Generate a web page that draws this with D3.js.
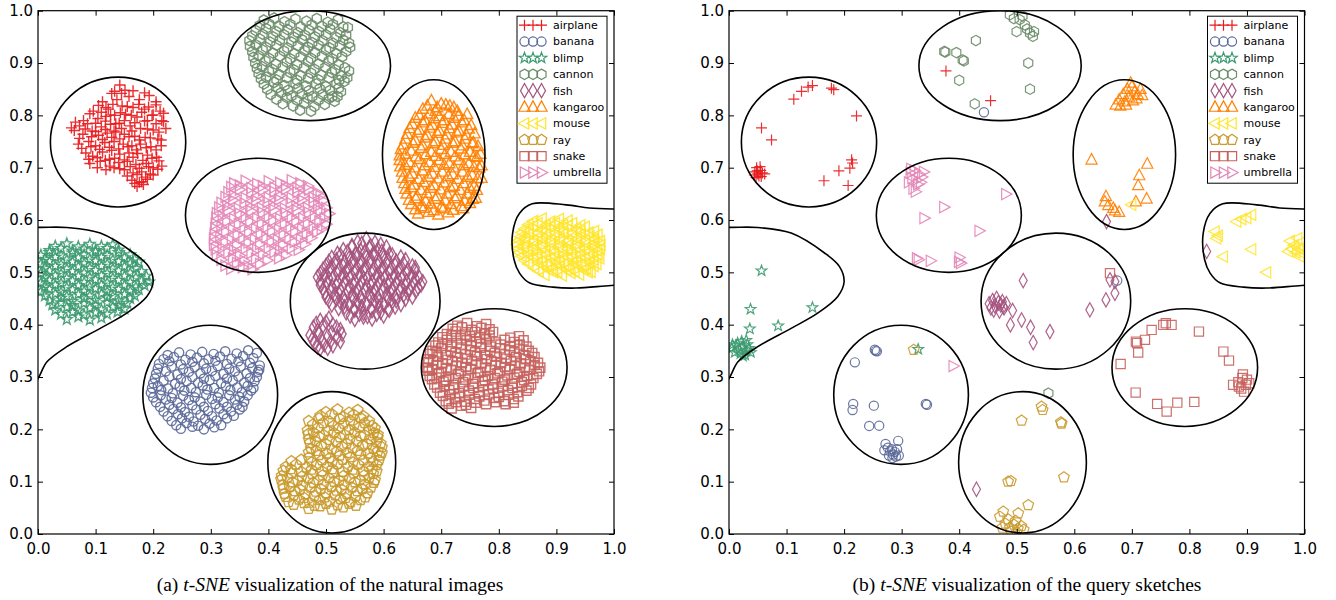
<!DOCTYPE html>
<html>
<head>
<meta charset="utf-8">
<script src="https://cdn.jsdelivr.net/npm/d3@7"></script>
<style>
  body { margin: 0; background: #fff; }
</style>
</head>
<body>
<div id="chart"></div>
<script>
const classNames = ["airplane", "banana", "blimp", "cannon", "fish", "kangaroo", "mouse", "ray", "snake", "umbrella"];
const classColors = ["#e8191d", "#5a6898", "#3c9a70", "#6a8c68", "#a4527e", "#ff8000", "#ffe52e", "#c99a2c", "#c7625d", "#e487b8"];
const classMarkers = ["plus", "circle", "star", "hexagon", "thindiamond", "triUp", "triLeft", "pentagon", "square", "triRight"];
const tickValues = [0, 0.1, 0.2, 0.3, 0.4, 0.5, 0.6, 0.7, 0.8, 0.9, 1.0];

// (a) natural images: dense clusters
const airplaneA = [[0.142,0.858],[0.151,0.848],[0.128,0.842],[0.137,0.83],[0.158,0.836],[0.176,0.83],[0.193,0.838],[0.205,0.826],
  [0.112,0.826],[0.122,0.812],[0.146,0.818],[0.165,0.815],[0.185,0.812],[0.212,0.808],[0.198,0.8],
  [0.096,0.808],[0.104,0.794],[0.118,0.798],[0.133,0.8],[0.152,0.802],[0.172,0.797],[0.19,0.79],[0.215,0.79],[0.222,0.775],
  [0.058,0.776],[0.072,0.78],[0.086,0.784],[0.094,0.77],[0.11,0.778],[0.126,0.783],[0.141,0.785],[0.16,0.78],[0.178,0.775],[0.2,0.772],
  [0.078,0.764],[0.105,0.762],[0.12,0.766],[0.135,0.768],[0.15,0.764],[0.168,0.76],[0.186,0.758],[0.208,0.755],
  [0.07,0.745],[0.088,0.75],[0.1,0.742],[0.116,0.748],[0.132,0.75],[0.148,0.745],[0.163,0.742],[0.178,0.745],[0.196,0.74],[0.214,0.742],
  [0.083,0.728],[0.095,0.722],[0.112,0.73],[0.128,0.733],[0.142,0.726],[0.158,0.728],[0.173,0.727],[0.19,0.724],[0.206,0.72],
  [0.09,0.708],[0.108,0.712],[0.124,0.716],[0.14,0.71],[0.155,0.712],[0.17,0.706],[0.188,0.708],[0.2,0.7],[0.215,0.703],
  [0.118,0.696],[0.132,0.7],[0.15,0.696],[0.165,0.69],[0.18,0.692],[0.195,0.688],
  [0.163,0.676],[0.176,0.672],[0.19,0.678],[0.172,0.664],[0.183,0.668],
  [0.133,0.846],[0.145,0.842],[0.165,0.847],[0.185,0.843],
  [0.105,0.819],[0.118,0.815],[0.13,0.821],[0.155,0.817],[0.175,0.821],[0.192,0.816],[0.205,0.82],
  [0.09,0.803],[0.11,0.806],[0.126,0.801],[0.143,0.805],[0.162,0.8],[0.18,0.806],[0.2,0.801],[0.218,0.804],
  [0.065,0.787],[0.079,0.79],[0.1,0.785],[0.117,0.789],[0.135,0.784],[0.15,0.79],[0.168,0.786],[0.185,0.789],[0.205,0.784],[0.218,0.788],
  [0.063,0.771],[0.082,0.774],[0.1,0.769],[0.117,0.773],[0.132,0.77],[0.145,0.775],[0.163,0.77],[0.19,0.774],[0.21,0.768],
  [0.072,0.756],[0.093,0.759],[0.112,0.754],[0.128,0.758],[0.142,0.755],[0.158,0.759],[0.176,0.753],[0.195,0.757],[0.214,0.753],
  [0.076,0.737],[0.092,0.74],[0.107,0.735],[0.124,0.739],[0.14,0.736],[0.156,0.74],[0.171,0.734],[0.188,0.738],[0.205,0.734],
  [0.088,0.716],[0.103,0.719],[0.117,0.714],[0.133,0.718],[0.15,0.715],[0.165,0.72],[0.182,0.714],[0.198,0.718],[0.21,0.713],
  [0.103,0.7],[0.125,0.703],[0.142,0.698],[0.16,0.702],[0.176,0.699],[0.192,0.702],[0.208,0.697],
  [0.155,0.684],[0.172,0.687],[0.187,0.682],[0.2,0.686],[0.168,0.67],[0.18,0.673]];
const bananaA = [[0.225,0.342],[0.245,0.347],[0.265,0.343],[0.285,0.348],[0.305,0.344],[0.325,0.349],[0.345,0.345],[0.365,0.351],[0.38,0.346],
  [0.21,0.325],[0.228,0.33],[0.248,0.324],[0.268,0.329],[0.288,0.326],[0.308,0.331],[0.328,0.325],[0.348,0.33],[0.368,0.327],[0.385,0.322],
  [0.205,0.306],[0.222,0.311],[0.242,0.305],[0.262,0.31],[0.282,0.307],[0.302,0.312],[0.322,0.306],[0.342,0.311],[0.362,0.307],[0.382,0.31],
  [0.2,0.288],[0.218,0.293],[0.238,0.287],[0.258,0.292],[0.278,0.289],[0.298,0.294],[0.318,0.288],[0.338,0.293],[0.358,0.289],[0.376,0.292],
  [0.196,0.27],[0.214,0.275],[0.234,0.269],[0.254,0.274],[0.274,0.271],[0.294,0.276],[0.314,0.27],[0.334,0.275],[0.354,0.271],[0.37,0.274],
  [0.205,0.252],[0.222,0.257],[0.242,0.251],[0.262,0.256],[0.282,0.253],[0.302,0.258],[0.322,0.252],[0.342,0.257],[0.358,0.253],
  [0.218,0.234],[0.235,0.239],[0.255,0.233],[0.275,0.238],[0.295,0.235],[0.315,0.24],[0.335,0.234],[0.35,0.238],
  [0.232,0.216],[0.25,0.221],[0.27,0.215],[0.29,0.22],[0.31,0.217],[0.328,0.221],
  [0.248,0.201],[0.268,0.205],[0.288,0.2],[0.306,0.204],
  [0.218,0.334],[0.236,0.338],[0.256,0.333],[0.276,0.337],[0.296,0.334],[0.316,0.339],[0.336,0.335],[0.356,0.34],[0.374,0.336],
  [0.208,0.316],[0.232,0.32],[0.252,0.315],[0.272,0.319],[0.292,0.316],[0.312,0.321],[0.332,0.316],[0.352,0.32],[0.372,0.317],[0.384,0.314],
  [0.203,0.297],[0.228,0.301],[0.248,0.296],[0.268,0.3],[0.288,0.297],[0.308,0.302],[0.328,0.297],[0.348,0.301],[0.368,0.298],[0.38,0.3],
  [0.198,0.279],[0.208,0.283],[0.226,0.278],[0.246,0.282],[0.266,0.279],[0.286,0.284],[0.306,0.279],[0.326,0.283],[0.346,0.28],[0.364,0.283],[0.374,0.279],
  [0.2,0.261],[0.213,0.265],[0.232,0.26],[0.252,0.264],[0.272,0.261],[0.292,0.266],[0.312,0.261],[0.332,0.265],[0.35,0.262],[0.364,0.265],
  [0.212,0.243],[0.228,0.247],[0.248,0.242],[0.268,0.246],[0.288,0.243],[0.308,0.248],[0.328,0.243],[0.346,0.247],[0.355,0.243],
  [0.225,0.225],[0.243,0.229],[0.262,0.224],[0.282,0.228],[0.302,0.225],[0.322,0.229],[0.34,0.226],
  [0.24,0.208],[0.258,0.212],[0.278,0.207],[0.298,0.211],[0.318,0.208]];
const blimpA = [[0.03,0.55],[0.05,0.555],[0.07,0.549],[0.09,0.554],[0.11,0.55],[0.13,0.553],
  [0.005,0.533],[0.02,0.538],[0.04,0.532],[0.06,0.537],[0.08,0.534],[0.1,0.539],[0.12,0.533],[0.14,0.538],[0.16,0.534],
  [0.005,0.516],[0.02,0.521],[0.04,0.515],[0.06,0.52],[0.08,0.517],[0.1,0.522],[0.12,0.516],[0.14,0.521],[0.16,0.517],[0.175,0.52],
  [0.005,0.498],[0.02,0.503],[0.04,0.497],[0.06,0.502],[0.08,0.499],[0.1,0.504],[0.12,0.498],[0.14,0.503],[0.16,0.499],[0.18,0.502],
  [0.005,0.48],[0.02,0.485],[0.04,0.479],[0.06,0.484],[0.08,0.481],[0.1,0.486],[0.12,0.48],[0.14,0.485],[0.16,0.481],[0.18,0.484],[0.193,0.482],
  [0.005,0.463],[0.02,0.468],[0.04,0.462],[0.06,0.467],[0.08,0.464],[0.1,0.469],[0.12,0.463],[0.14,0.468],[0.16,0.464],[0.175,0.467],
  [0.02,0.446],[0.04,0.451],[0.06,0.445],[0.08,0.45],[0.1,0.447],[0.12,0.452],[0.14,0.446],[0.16,0.45],
  [0.03,0.428],[0.05,0.433],[0.07,0.427],[0.09,0.432],[0.11,0.429],[0.13,0.434],[0.15,0.43],
  [0.05,0.41],[0.07,0.415],[0.09,0.409],[0.11,0.413],
  [0.02,0.542],[0.04,0.546],[0.06,0.541],[0.08,0.545],[0.1,0.542],[0.12,0.546],[0.14,0.543],
  [0.012,0.525],[0.03,0.529],[0.05,0.524],[0.07,0.528],[0.09,0.525],[0.11,0.529],[0.13,0.524],[0.15,0.528],[0.168,0.525],
  [0.012,0.508],[0.03,0.512],[0.05,0.507],[0.07,0.511],[0.09,0.508],[0.11,0.512],[0.13,0.507],[0.15,0.511],[0.17,0.508],
  [0.012,0.49],[0.03,0.494],[0.05,0.489],[0.07,0.493],[0.09,0.49],[0.11,0.494],[0.13,0.489],[0.15,0.493],[0.17,0.49],[0.188,0.493],
  [0.012,0.472],[0.03,0.476],[0.05,0.471],[0.07,0.475],[0.09,0.472],[0.11,0.476],[0.13,0.471],[0.15,0.475],[0.17,0.472],[0.185,0.475],
  [0.012,0.455],[0.03,0.459],[0.05,0.454],[0.07,0.458],[0.09,0.455],[0.11,0.459],[0.13,0.454],[0.15,0.458],[0.168,0.455],
  [0.025,0.438],[0.04,0.442],[0.06,0.437],[0.08,0.441],[0.1,0.438],[0.12,0.442],[0.14,0.437],[0.155,0.441],
  [0.04,0.42],[0.06,0.424],[0.08,0.419],[0.1,0.423],[0.12,0.42],[0.138,0.424]];
const cannonA = [[0.392,0.982],[0.41,0.986],[0.428,0.979],[0.447,0.984],[0.466,0.98],[0.484,0.985],[0.503,0.978],[0.521,0.983],
  [0.378,0.962],[0.396,0.966],[0.414,0.96],[0.433,0.964],[0.451,0.958],[0.47,0.963],[0.488,0.96],[0.507,0.965],[0.525,0.958],[0.538,0.968],
  [0.367,0.943],[0.385,0.946],[0.403,0.94],[0.42,0.944],[0.44,0.94],[0.458,0.945],[0.476,0.939],[0.494,0.943],[0.512,0.938],[0.53,0.944],[0.542,0.93],
  [0.372,0.922],[0.39,0.925],[0.408,0.919],[0.427,0.923],[0.445,0.918],[0.463,0.924],[0.481,0.92],[0.5,0.925],[0.518,0.918],[0.535,0.922],
  [0.377,0.9],[0.395,0.904],[0.413,0.898],[0.432,0.902],[0.45,0.897],[0.469,0.903],[0.487,0.898],[0.505,0.904],[0.522,0.897],
  [0.383,0.88],[0.401,0.884],[0.419,0.878],[0.438,0.882],[0.456,0.876],[0.474,0.881],[0.492,0.877],[0.51,0.882],[0.527,0.876],[0.54,0.885],
  [0.392,0.86],[0.41,0.863],[0.428,0.857],[0.447,0.861],[0.465,0.856],[0.483,0.86],[0.5,0.855],[0.518,0.86],[0.532,0.865],
  [0.404,0.84],[0.422,0.843],[0.44,0.837],[0.458,0.841],[0.476,0.836],[0.494,0.84],[0.511,0.836],[0.526,0.845],
  [0.425,0.822],[0.443,0.818],[0.462,0.823],[0.48,0.817],[0.498,0.821],[0.515,0.827],[0.455,0.81],[0.474,0.808],
  [0.385,0.972],[0.401,0.975],[0.419,0.97],[0.438,0.974],[0.456,0.969],[0.475,0.973],[0.493,0.97],[0.512,0.974],[0.53,0.969],
  [0.372,0.952],[0.39,0.955],[0.408,0.95],[0.427,0.954],[0.445,0.949],[0.463,0.953],[0.481,0.95],[0.5,0.954],[0.518,0.949],[0.535,0.953],
  [0.368,0.932],[0.378,0.935],[0.396,0.93],[0.414,0.934],[0.433,0.929],[0.451,0.933],[0.469,0.93],[0.487,0.934],[0.506,0.929],[0.524,0.933],[0.54,0.938],
  [0.374,0.911],[0.383,0.914],[0.401,0.909],[0.42,0.913],[0.438,0.908],[0.456,0.912],[0.474,0.909],[0.493,0.913],[0.511,0.908],[0.528,0.912],
  [0.38,0.89],[0.389,0.893],[0.407,0.888],[0.425,0.892],[0.444,0.887],[0.462,0.891],[0.48,0.888],[0.499,0.892],[0.516,0.887],[0.533,0.891],
  [0.387,0.87],[0.396,0.873],[0.414,0.868],[0.432,0.872],[0.45,0.867],[0.469,0.871],[0.487,0.868],[0.505,0.872],[0.523,0.867],[0.537,0.872],
  [0.398,0.85],[0.416,0.853],[0.434,0.848],[0.452,0.852],[0.47,0.847],[0.489,0.851],[0.507,0.848],[0.522,0.852],
  [0.414,0.831],[0.432,0.834],[0.45,0.829],[0.468,0.833],[0.487,0.829],[0.505,0.832],[0.52,0.836]];
const fishA = [[0.555,0.558],[0.57,0.564],[0.585,0.557],
  [0.53,0.543],[0.545,0.548],[0.56,0.542],[0.575,0.547],[0.59,0.544],[0.605,0.548],
  [0.51,0.528],[0.525,0.533],[0.54,0.527],[0.555,0.532],[0.57,0.529],[0.585,0.534],[0.6,0.528],[0.615,0.533],[0.63,0.529],
  [0.5,0.513],[0.515,0.518],[0.53,0.512],[0.545,0.517],[0.56,0.514],[0.575,0.519],[0.59,0.513],[0.605,0.518],[0.62,0.514],[0.635,0.517],[0.65,0.512],
  [0.49,0.498],[0.505,0.503],[0.52,0.497],[0.535,0.502],[0.55,0.499],[0.565,0.504],[0.58,0.498],[0.595,0.503],[0.61,0.499],[0.625,0.502],[0.64,0.498],[0.655,0.503],
  [0.49,0.483],[0.505,0.488],[0.52,0.482],[0.535,0.487],[0.55,0.484],[0.565,0.489],[0.58,0.483],[0.595,0.488],[0.61,0.484],[0.625,0.487],[0.64,0.483],[0.655,0.488],[0.668,0.482],
  [0.495,0.468],[0.51,0.473],[0.525,0.467],[0.54,0.472],[0.555,0.469],[0.57,0.474],[0.585,0.468],[0.6,0.473],[0.615,0.469],[0.63,0.472],[0.645,0.468],[0.66,0.471],
  [0.5,0.453],[0.515,0.458],[0.53,0.452],[0.545,0.457],[0.56,0.454],[0.575,0.459],[0.59,0.453],[0.605,0.458],[0.62,0.454],[0.635,0.457],[0.65,0.453],
  [0.51,0.438],[0.525,0.443],[0.54,0.437],[0.555,0.442],[0.57,0.439],[0.585,0.444],[0.6,0.438],[0.615,0.443],[0.63,0.439],
  [0.535,0.423],[0.55,0.428],[0.565,0.422],[0.58,0.427],[0.595,0.424],[0.61,0.428],
  [0.55,0.41],[0.565,0.415],[0.58,0.411],
  [0.545,0.551],[0.562,0.555],[0.578,0.55],[0.595,0.553],
  [0.52,0.536],[0.537,0.539],[0.552,0.535],[0.567,0.539],[0.582,0.536],[0.597,0.54],[0.61,0.535],
  [0.505,0.521],[0.518,0.524],[0.532,0.52],[0.548,0.524],[0.562,0.521],[0.578,0.525],[0.592,0.52],[0.608,0.524],[0.622,0.521],[0.638,0.524],
  [0.495,0.506],[0.508,0.509],[0.522,0.505],[0.538,0.509],[0.552,0.506],[0.568,0.51],[0.582,0.505],[0.598,0.509],[0.612,0.506],[0.628,0.509],[0.642,0.505],[0.655,0.509],
  [0.485,0.491],[0.498,0.494],[0.512,0.49],[0.528,0.494],[0.542,0.491],[0.558,0.495],[0.572,0.49],[0.588,0.494],[0.602,0.491],[0.618,0.494],[0.632,0.49],[0.648,0.494],[0.662,0.49],
  [0.49,0.476],[0.502,0.479],[0.518,0.475],[0.532,0.479],[0.548,0.476],[0.562,0.48],[0.578,0.475],[0.592,0.479],[0.608,0.476],[0.622,0.479],[0.638,0.475],[0.652,0.479],[0.665,0.476],
  [0.498,0.461],[0.508,0.464],[0.522,0.46],[0.538,0.464],[0.552,0.461],[0.568,0.465],[0.582,0.46],[0.598,0.464],[0.612,0.461],[0.628,0.464],[0.642,0.46],[0.656,0.464],
  [0.505,0.446],[0.518,0.449],[0.532,0.445],[0.548,0.449],[0.562,0.446],[0.578,0.45],[0.592,0.445],[0.608,0.449],[0.622,0.446],[0.638,0.449],
  [0.522,0.431],[0.532,0.434],[0.548,0.43],[0.562,0.434],[0.578,0.431],[0.592,0.435],[0.608,0.43],[0.62,0.434],
  [0.542,0.417],[0.558,0.42],[0.572,0.416],[0.588,0.42],[0.6,0.417],
  [0.49,0.408],[0.505,0.412],[0.478,0.395],[0.495,0.398],[0.512,0.4],[0.525,0.39],[0.472,0.38],[0.488,0.383],[0.503,0.378],[0.52,0.376],
  [0.48,0.365],[0.497,0.362],[0.512,0.36],[0.49,0.354],[0.483,0.402],[0.5,0.405],[0.518,0.395],[0.485,0.388],[0.51,0.385],[0.528,0.382],
  [0.476,0.372],[0.493,0.37],[0.508,0.368],[0.525,0.368],[0.485,0.358],[0.503,0.355]];
const kangarooA = [[0.683,0.828],[0.7,0.822],[0.715,0.818],[0.668,0.812],[0.69,0.808],[0.728,0.808],
  [0.655,0.795],[0.672,0.79],[0.688,0.794],[0.705,0.79],[0.722,0.795],[0.74,0.79],
  [0.645,0.775],[0.662,0.772],[0.68,0.776],[0.697,0.77],[0.714,0.775],[0.731,0.77],[0.748,0.774],
  [0.638,0.755],[0.655,0.752],[0.672,0.757],[0.69,0.75],[0.707,0.755],[0.724,0.75],[0.741,0.755],[0.756,0.748],
  [0.63,0.735],[0.648,0.732],[0.665,0.737],[0.683,0.73],[0.7,0.735],[0.717,0.73],[0.734,0.736],[0.75,0.73],[0.762,0.72],
  [0.628,0.714],[0.645,0.71],[0.662,0.716],[0.68,0.71],[0.697,0.714],[0.714,0.708],[0.731,0.714],[0.748,0.708],[0.766,0.7],
  [0.632,0.692],[0.65,0.688],[0.667,0.694],[0.685,0.688],[0.702,0.692],[0.72,0.687],[0.737,0.692],[0.754,0.686],[0.77,0.68],
  [0.636,0.67],[0.653,0.667],[0.67,0.672],[0.688,0.666],[0.705,0.671],[0.722,0.665],[0.739,0.67],[0.757,0.665],
  [0.64,0.65],[0.658,0.646],[0.675,0.651],[0.693,0.645],[0.71,0.65],[0.727,0.645],[0.745,0.65],[0.76,0.642],
  [0.648,0.63],[0.665,0.626],[0.682,0.631],[0.7,0.625],[0.717,0.63],[0.735,0.626],[0.75,0.632],
  [0.66,0.612],[0.678,0.615],[0.695,0.61],[0.712,0.614],
  [0.676,0.818],[0.693,0.815],[0.708,0.82],[0.722,0.815],
  [0.662,0.8],[0.68,0.803],[0.697,0.798],[0.713,0.802],[0.73,0.799],[0.745,0.802],
  [0.65,0.783],[0.668,0.786],[0.685,0.781],[0.702,0.785],[0.719,0.782],[0.736,0.786],[0.752,0.781],
  [0.641,0.764],[0.659,0.767],[0.676,0.762],[0.693,0.766],[0.71,0.763],[0.727,0.767],[0.744,0.762],[0.758,0.765],
  [0.634,0.744],[0.651,0.747],[0.668,0.742],[0.686,0.746],[0.703,0.743],[0.72,0.747],[0.737,0.742],[0.754,0.746],[0.764,0.741],
  [0.628,0.723],[0.638,0.726],[0.656,0.721],[0.673,0.725],[0.69,0.722],[0.707,0.726],[0.724,0.721],[0.741,0.725],[0.757,0.722],[0.768,0.726],
  [0.629,0.702],[0.637,0.705],[0.654,0.7],[0.671,0.704],[0.688,0.701],[0.705,0.705],[0.722,0.7],[0.739,0.704],[0.757,0.701],[0.77,0.704],
  [0.633,0.68],[0.644,0.683],[0.661,0.678],[0.678,0.682],[0.695,0.679],[0.712,0.683],[0.729,0.678],[0.746,0.682],[0.763,0.679],
  [0.638,0.659],[0.648,0.662],[0.665,0.657],[0.682,0.661],[0.699,0.658],[0.716,0.662],[0.733,0.657],[0.75,0.661],[0.762,0.657],
  [0.644,0.638],[0.656,0.641],[0.673,0.636],[0.69,0.64],[0.707,0.637],[0.724,0.641],[0.741,0.636],[0.755,0.64],
  [0.655,0.62],[0.67,0.623],[0.687,0.618],[0.704,0.622],[0.721,0.619],[0.738,0.622]];
const mouseA = [[0.86,0.598],[0.875,0.603],[0.89,0.597],[0.905,0.602],[0.92,0.599],
  [0.845,0.583],[0.86,0.588],[0.875,0.582],[0.89,0.587],[0.905,0.584],[0.92,0.589],[0.935,0.583],[0.95,0.587],
  [0.838,0.568],[0.853,0.573],[0.868,0.567],[0.883,0.572],[0.898,0.569],[0.913,0.574],[0.928,0.568],[0.943,0.573],[0.958,0.569],[0.972,0.572],
  [0.832,0.553],[0.847,0.558],[0.862,0.552],[0.877,0.557],[0.892,0.554],[0.907,0.559],[0.922,0.553],[0.937,0.558],[0.952,0.554],[0.967,0.557],[0.977,0.552],
  [0.836,0.538],[0.851,0.543],[0.866,0.537],[0.881,0.542],[0.896,0.539],[0.911,0.544],[0.926,0.538],[0.941,0.543],[0.956,0.539],[0.971,0.542],
  [0.845,0.523],[0.86,0.528],[0.875,0.522],[0.89,0.527],[0.905,0.524],[0.92,0.529],[0.935,0.523],[0.95,0.528],[0.965,0.524],[0.975,0.527],
  [0.862,0.508],[0.877,0.513],[0.892,0.507],[0.907,0.512],[0.922,0.509],[0.937,0.514],[0.952,0.508],[0.965,0.512],
  [0.88,0.495],[0.895,0.5],[0.91,0.494],[0.925,0.499],[0.94,0.496],[0.955,0.5],
  [0.852,0.591],[0.868,0.594],[0.882,0.59],[0.898,0.594],[0.912,0.591],[0.928,0.594],[0.942,0.59],
  [0.84,0.576],[0.852,0.579],[0.868,0.575],[0.882,0.579],[0.898,0.576],[0.912,0.579],[0.928,0.575],[0.942,0.579],[0.956,0.576],[0.966,0.579],
  [0.835,0.561],[0.846,0.564],[0.86,0.56],[0.876,0.564],[0.89,0.561],[0.906,0.564],[0.92,0.56],[0.936,0.564],[0.95,0.561],[0.965,0.564],[0.976,0.56],
  [0.834,0.546],[0.844,0.549],[0.86,0.545],[0.874,0.549],[0.89,0.546],[0.904,0.549],[0.92,0.545],[0.934,0.549],[0.95,0.546],[0.964,0.549],[0.976,0.545],
  [0.84,0.531],[0.852,0.534],[0.868,0.53],[0.882,0.534],[0.898,0.531],[0.912,0.534],[0.928,0.53],[0.942,0.534],[0.958,0.531],[0.972,0.534],
  [0.852,0.516],[0.868,0.519],[0.884,0.515],[0.9,0.519],[0.914,0.516],[0.93,0.519],[0.944,0.515],[0.958,0.519],[0.97,0.516],
  [0.87,0.502],[0.887,0.505],[0.902,0.501],[0.918,0.505],[0.932,0.502],[0.948,0.505],[0.96,0.501]];
const rayA = [[0.5,0.233],[0.52,0.238],[0.54,0.232],[0.555,0.237],
  [0.47,0.216],[0.488,0.221],[0.506,0.215],[0.524,0.22],[0.542,0.217],[0.56,0.222],[0.575,0.216],
  [0.468,0.198],[0.486,0.203],[0.504,0.197],[0.522,0.202],[0.54,0.199],[0.558,0.204],[0.575,0.198],[0.585,0.202],
  [0.47,0.181],[0.488,0.186],[0.506,0.18],[0.524,0.185],[0.542,0.182],[0.56,0.187],[0.578,0.181],[0.59,0.185],
  [0.474,0.163],[0.492,0.168],[0.51,0.162],[0.528,0.167],[0.546,0.164],[0.564,0.169],[0.582,0.163],[0.597,0.166],
  [0.47,0.146],[0.488,0.151],[0.506,0.145],[0.524,0.15],[0.542,0.147],[0.56,0.152],[0.578,0.146],[0.593,0.15],
  [0.43,0.128],[0.448,0.133],[0.466,0.127],[0.484,0.132],[0.502,0.129],[0.52,0.134],[0.538,0.128],[0.556,0.133],[0.574,0.129],[0.588,0.132],
  [0.423,0.111],[0.44,0.116],[0.458,0.11],[0.476,0.115],[0.494,0.112],[0.512,0.117],[0.53,0.111],[0.548,0.116],[0.566,0.112],[0.582,0.115],
  [0.425,0.094],[0.442,0.099],[0.46,0.093],[0.478,0.098],[0.496,0.095],[0.514,0.1],[0.532,0.094],[0.55,0.099],[0.568,0.095],[0.583,0.098],
  [0.428,0.077],[0.446,0.082],[0.464,0.076],[0.482,0.081],[0.5,0.078],[0.518,0.083],[0.536,0.077],[0.554,0.082],[0.572,0.078],
  [0.435,0.061],[0.453,0.066],[0.471,0.06],[0.489,0.065],[0.507,0.062],[0.525,0.067],[0.543,0.061],[0.56,0.065],
  [0.47,0.048],[0.49,0.053],[0.51,0.047],[0.53,0.051],
  [0.49,0.226],[0.51,0.229],[0.53,0.224],[0.548,0.228],[0.565,0.225],
  [0.477,0.209],[0.495,0.212],[0.513,0.207],[0.531,0.211],[0.549,0.208],[0.567,0.212],[0.58,0.207],
  [0.469,0.191],[0.478,0.194],[0.496,0.189],[0.514,0.193],[0.532,0.19],[0.55,0.194],[0.567,0.189],[0.583,0.193],[0.59,0.19],
  [0.472,0.174],[0.482,0.177],[0.5,0.172],[0.518,0.176],[0.536,0.173],[0.554,0.177],[0.572,0.172],[0.588,0.176],[0.595,0.173],
  [0.47,0.156],[0.483,0.159],[0.501,0.154],[0.519,0.158],[0.537,0.155],[0.555,0.159],[0.573,0.154],[0.59,0.158],[0.597,0.155],
  [0.44,0.139],[0.457,0.142],[0.475,0.137],[0.493,0.141],[0.511,0.138],[0.529,0.142],[0.547,0.137],[0.565,0.141],[0.582,0.138],[0.592,0.141],
  [0.426,0.121],[0.439,0.124],[0.457,0.119],[0.475,0.123],[0.493,0.12],[0.511,0.124],[0.529,0.119],[0.547,0.123],[0.565,0.12],[0.58,0.124],[0.588,0.12],
  [0.422,0.104],[0.433,0.107],[0.451,0.102],[0.469,0.106],[0.487,0.103],[0.505,0.107],[0.523,0.102],[0.541,0.106],[0.559,0.103],[0.575,0.107],[0.585,0.103],
  [0.426,0.087],[0.437,0.09],[0.455,0.085],[0.473,0.089],[0.491,0.086],[0.509,0.09],[0.527,0.085],[0.545,0.089],[0.563,0.086],[0.578,0.089],
  [0.43,0.071],[0.444,0.074],[0.462,0.069],[0.48,0.073],[0.498,0.07],[0.516,0.074],[0.534,0.069],[0.552,0.073],[0.568,0.07],
  [0.444,0.056],[0.462,0.059],[0.48,0.054],[0.5,0.058],[0.52,0.055],[0.54,0.058],[0.552,0.054]];
const snakeA = [[0.728,0.398],[0.745,0.403],[0.762,0.397],[0.778,0.401],
  [0.71,0.382],[0.725,0.387],[0.742,0.381],[0.759,0.386],[0.776,0.383],[0.79,0.386],
  [0.695,0.366],[0.71,0.371],[0.727,0.365],[0.744,0.37],[0.761,0.367],[0.778,0.372],[0.795,0.366],[0.81,0.371],[0.827,0.367],[0.843,0.37],
  [0.685,0.35],[0.7,0.355],[0.717,0.349],[0.734,0.354],[0.751,0.351],[0.768,0.356],[0.785,0.35],[0.802,0.355],[0.819,0.351],[0.836,0.354],[0.852,0.35],
  [0.678,0.334],[0.694,0.339],[0.711,0.333],[0.728,0.338],[0.745,0.335],[0.762,0.34],[0.779,0.334],[0.796,0.339],[0.813,0.335],[0.83,0.338],[0.847,0.334],[0.862,0.338],
  [0.676,0.318],[0.692,0.323],[0.709,0.317],[0.726,0.322],[0.743,0.319],[0.76,0.324],[0.777,0.318],[0.794,0.323],[0.811,0.319],[0.828,0.322],[0.845,0.318],[0.862,0.323],[0.872,0.318],
  [0.68,0.302],[0.696,0.307],[0.713,0.301],[0.73,0.306],[0.747,0.303],[0.764,0.308],[0.781,0.302],[0.798,0.307],[0.815,0.303],[0.832,0.306],[0.849,0.302],[0.866,0.306],
  [0.688,0.286],[0.704,0.291],[0.721,0.285],[0.738,0.29],[0.755,0.287],[0.772,0.292],[0.789,0.286],[0.806,0.291],[0.823,0.287],[0.84,0.29],[0.856,0.286],
  [0.698,0.27],[0.714,0.275],[0.731,0.269],[0.748,0.274],[0.765,0.271],[0.782,0.276],[0.799,0.27],[0.816,0.275],[0.833,0.271],[0.848,0.274],
  [0.708,0.254],[0.724,0.259],[0.741,0.253],[0.758,0.258],[0.775,0.255],[0.792,0.26],[0.809,0.254],[0.826,0.258],
  [0.718,0.24],[0.735,0.245],[0.752,0.241],
  [0.72,0.392],[0.736,0.395],[0.753,0.39],[0.77,0.394],[0.784,0.391],
  [0.702,0.376],[0.718,0.379],[0.734,0.374],[0.75,0.378],[0.767,0.375],[0.784,0.379],[0.82,0.375],[0.835,0.378],
  [0.69,0.36],[0.702,0.363],[0.718,0.358],[0.735,0.362],[0.752,0.359],[0.769,0.363],[0.786,0.358],[0.803,0.362],[0.82,0.359],[0.836,0.362],[0.848,0.358],
  [0.681,0.344],[0.692,0.347],[0.708,0.342],[0.725,0.346],[0.742,0.343],[0.759,0.347],[0.776,0.342],[0.793,0.346],[0.81,0.343],[0.827,0.347],[0.844,0.342],[0.858,0.346],
  [0.677,0.328],[0.686,0.331],[0.702,0.326],[0.719,0.33],[0.736,0.327],[0.753,0.331],[0.77,0.326],[0.787,0.33],[0.804,0.327],[0.821,0.331],[0.838,0.326],[0.855,0.33],[0.868,0.327],
  [0.678,0.312],[0.684,0.315],[0.7,0.31],[0.717,0.314],[0.734,0.311],[0.751,0.315],[0.768,0.31],[0.785,0.314],[0.802,0.311],[0.819,0.315],[0.836,0.31],[0.853,0.314],[0.87,0.311],
  [0.684,0.296],[0.692,0.299],[0.708,0.294],[0.725,0.298],[0.742,0.295],[0.759,0.299],[0.776,0.294],[0.793,0.298],[0.81,0.295],[0.827,0.299],[0.844,0.294],[0.86,0.298],
  [0.693,0.28],[0.706,0.283],[0.722,0.278],[0.739,0.282],[0.756,0.279],[0.773,0.283],[0.79,0.278],[0.807,0.282],[0.824,0.279],[0.84,0.283],[0.852,0.279],
  [0.703,0.264],[0.716,0.267],[0.732,0.262],[0.749,0.266],[0.766,0.263],[0.783,0.267],[0.8,0.262],[0.817,0.266],[0.834,0.263],
  [0.713,0.249],[0.726,0.252],[0.743,0.247],[0.76,0.251],[0.778,0.248],[0.795,0.252],[0.812,0.248],[0.826,0.251]];
const umbrellaA = [[0.34,0.67],[0.36,0.675],[0.38,0.669],[0.4,0.674],[0.42,0.671],[0.44,0.676],[0.455,0.67],
  [0.33,0.653],[0.35,0.658],[0.37,0.652],[0.39,0.657],[0.41,0.654],[0.43,0.659],[0.45,0.653],[0.47,0.658],[0.485,0.652],
  [0.318,0.633],[0.338,0.638],[0.358,0.632],[0.378,0.637],[0.398,0.634],[0.418,0.639],[0.438,0.633],[0.458,0.638],[0.478,0.634],[0.495,0.637],
  [0.31,0.613],[0.33,0.618],[0.35,0.612],[0.37,0.617],[0.39,0.614],[0.41,0.619],[0.43,0.613],[0.45,0.618],[0.47,0.614],[0.49,0.617],[0.505,0.612],
  [0.308,0.593],[0.328,0.598],[0.348,0.592],[0.368,0.597],[0.388,0.594],[0.408,0.599],[0.428,0.593],[0.448,0.598],[0.468,0.594],[0.488,0.597],[0.5,0.592],
  [0.306,0.573],[0.326,0.578],[0.346,0.572],[0.366,0.577],[0.386,0.574],[0.406,0.579],[0.426,0.573],[0.446,0.578],[0.466,0.574],[0.484,0.577],
  [0.305,0.553],[0.325,0.558],[0.345,0.552],[0.365,0.557],[0.385,0.554],[0.405,0.559],[0.425,0.553],[0.445,0.558],[0.463,0.554],
  [0.31,0.533],[0.33,0.538],[0.35,0.532],[0.37,0.537],[0.39,0.534],[0.41,0.539],[0.43,0.533],
  [0.325,0.513],[0.345,0.518],[0.365,0.512],[0.385,0.516],
  [0.335,0.663],[0.35,0.666],[0.37,0.661],[0.39,0.665],[0.41,0.662],[0.43,0.666],[0.45,0.661],[0.468,0.665],
  [0.325,0.644],[0.34,0.647],[0.36,0.642],[0.38,0.646],[0.4,0.643],[0.42,0.647],[0.44,0.642],[0.46,0.646],[0.478,0.643],[0.49,0.646],
  [0.314,0.624],[0.328,0.627],[0.348,0.622],[0.368,0.626],[0.388,0.623],[0.408,0.627],[0.428,0.622],[0.448,0.626],[0.468,0.623],[0.486,0.627],[0.5,0.623],
  [0.309,0.604],[0.32,0.607],[0.34,0.602],[0.36,0.606],[0.38,0.603],[0.4,0.607],[0.42,0.602],[0.44,0.606],[0.46,0.603],[0.48,0.607],[0.497,0.603],
  [0.307,0.584],[0.318,0.587],[0.338,0.582],[0.358,0.586],[0.378,0.583],[0.398,0.587],[0.418,0.582],[0.438,0.586],[0.458,0.583],[0.478,0.587],[0.492,0.583],
  [0.305,0.564],[0.316,0.567],[0.336,0.562],[0.356,0.566],[0.376,0.563],[0.396,0.567],[0.416,0.562],[0.436,0.566],[0.456,0.563],[0.474,0.566],
  [0.308,0.544],[0.32,0.547],[0.34,0.542],[0.36,0.546],[0.38,0.543],[0.4,0.547],[0.42,0.542],[0.44,0.546],[0.452,0.543],
  [0.318,0.524],[0.338,0.527],[0.358,0.522],[0.378,0.526],[0.398,0.523],[0.418,0.527],
  [0.335,0.507],[0.355,0.51],[0.372,0.506]];

// (b) query sketches: sparse points
const airplaneB = [[0.045,0.692],[0.05,0.688],[0.055,0.695],[0.048,0.7],[0.052,0.684],[0.058,0.69],[0.044,0.686],[0.054,0.702],[0.049,0.694],[0.062,0.688],[0.047,0.681],[0.056,0.683],
  [0.0565,0.776],[0.0739,0.753],[0.1126,0.831],[0.126,0.846],[0.1375,0.854],[0.145,0.857],[0.178,0.852],[0.182,0.849],[0.2216,0.799],
  [0.213,0.715],[0.2147,0.709],[0.21,0.699],[0.191,0.694],[0.165,0.675],[0.207,0.666],[0.377,0.885],[0.4545,0.828]];
const bananaB = [[0.443,0.806],[0.2534,0.352],[0.255,0.35],[0.257,0.349],[0.2187,0.328],[0.2158,0.2486],[0.2147,0.237],[0.2517,0.2453],
  [0.2436,0.2065],[0.261,0.207],[0.342,0.2486],[0.344,0.247],[0.294,0.178],[0.272,0.172],[0.276,0.165],[0.28,0.158],[0.285,0.152],
  [0.29,0.148],[0.283,0.162],[0.278,0.15],[0.288,0.157],[0.295,0.15],[0.27,0.16],[0.292,0.162],[0.284,0.145],[0.6746,0.4843]];
const blimpB = [[0.0565,0.503],[0.0374,0.4296],[0.0362,0.392],[0.0854,0.3977],[0.145,0.4327],[0.3287,0.353],
  [0.005,0.355],[0.012,0.36],[0.018,0.352],[0.025,0.358],[0.03,0.35],[0.02,0.345],[0.01,0.347],[0.028,0.342],[0.035,0.355],
  [0.015,0.365],[0.022,0.368],[0.032,0.362],[0.038,0.347],[0.006,0.362],[0.024,0.34],[0.03,0.37]];
const cannonB = [[0.374,0.922],[0.376,0.921],[0.395,0.92],[0.406,0.906],[0.408,0.904],[0.429,0.943],[0.4,0.867],[0.427,0.822],
  [0.488,0.992],[0.505,0.983],[0.514,0.973],[0.4997,0.96],[0.523,0.957],[0.528,0.951],[0.52,0.9],[0.523,0.85],
  [0.495,0.985],[0.51,0.99],[0.518,0.965],[0.53,0.96],[0.555,0.269]];
const fishB = [[0.452,0.44],[0.458,0.446],[0.462,0.436],[0.468,0.442],[0.455,0.432],[0.465,0.45],[0.472,0.438],[0.46,0.428],[0.475,0.444],
  [0.478,0.432],[0.47,0.426],[0.482,0.44],[0.4765,0.4346],[0.4928,0.427],[0.489,0.3996],[0.5084,0.409],[0.524,0.395],[0.5286,0.3658],
  [0.5576,0.3868],[0.5112,0.4843],[0.627,0.4283],[0.655,0.4474],[0.6706,0.46],[0.662,0.4857],[0.6706,0.4825],[0.43,0.0855],[0.83,0.54],[0.656,0.597]];
const kangarooB = [[0.685,0.84],[0.692,0.85],[0.7,0.855],[0.705,0.845],[0.695,0.835],[0.71,0.84],[0.715,0.85],[0.698,0.862],[0.688,0.826],
  [0.702,0.828],[0.678,0.83],[0.672,0.82],[0.68,0.818],[0.69,0.82],[0.708,0.832],[0.718,0.838],
  [0.63,0.715],[0.7268,0.707],[0.7129,0.685],[0.711,0.666],[0.7257,0.6405],[0.707,0.635],[0.655,0.645],[0.653,0.635],[0.659,0.628],
  [0.6677,0.6227],[0.6706,0.618],[0.678,0.615]];
const mouseB = [[0.6996,0.629],[0.8995,0.6036],[0.891,0.6017],[0.908,0.61],[0.882,0.597],[0.8444,0.578],[0.8474,0.565],[0.85,0.57],
  [0.8589,0.53],[0.908,0.544],[0.934,0.5],[0.975,0.56],[0.982,0.552],[0.99,0.545],[0.995,0.558],[0.985,0.538],[0.992,0.53],
  [0.978,0.545],[0.998,0.548],[0.988,0.565],[0.972,0.54],[0.996,0.536]];
const rayB = [[0.321,0.352],[0.485,0.1],[0.543,0.2434],[0.545,0.237],[0.5084,0.2166],[0.5767,0.2135],[0.578,0.211],[0.582,0.1084],
  [0.4898,0.1013],[0.52,0.0554],[0.5026,0.0395],[0.4765,0.0427],[0.4707,0.033],[0.48,0.02],[0.488,0.012],[0.495,0.018],
  [0.502,0.01],[0.49,0.005],[0.498,0.025],[0.508,0.015],[0.485,0.028],[0.5,0.003],[0.512,0.008],[0.475,0.012]];
const snakeB = [[0.662,0.4985],[0.7344,0.39],[0.7228,0.371],[0.707,0.3677],[0.709,0.365],[0.711,0.3467],[0.6805,0.325],[0.759,0.4028],
  [0.769,0.3996],[0.7546,0.3996],[0.8166,0.3868],[0.859,0.3486],[0.8688,0.3314],[0.7066,0.2702],[0.744,0.2486],[0.7605,0.2339],
  [0.779,0.251],[0.8085,0.2524],[0.885,0.29],[0.892,0.298],[0.898,0.285],[0.89,0.278],[0.9,0.295],[0.895,0.272],[0.886,0.282],
  [0.904,0.288],[0.876,0.285],[0.893,0.305]];
const umbrellaB = [[0.315,0.69],[0.322,0.695],[0.33,0.688],[0.318,0.68],[0.325,0.676],[0.335,0.682],[0.312,0.672],[0.328,0.668],
  [0.32,0.66],[0.333,0.672],[0.338,0.692],[0.316,0.698],[0.324,0.654],[0.339,0.6036],[0.3734,0.6246],[0.4347,0.5793],[0.481,0.6495],
  [0.326,0.527],[0.329,0.524],[0.35,0.522],[0.4,0.5284],[0.4024,0.5176],[0.399,0.52],[0.3896,0.321]];

const imagePoints = [airplaneA, bananaA, blimpA, cannonA, fishA, kangarooA, mouseA, rayA, snakeA, umbrellaA];
const sketchPoints = [airplaneB, bananaB, blimpB, cannonB, fishB, kangarooB, mouseB, rayB, snakeB, umbrellaB];

// cluster boundaries, data units: [cx, cy, rx, ry]
const boundaryEllipses = [[0.139,0.749,0.1175,0.124],[0.471,0.895,0.141,0.105],[0.687,0.725,0.089,0.143],[0.382,0.609,0.126,0.109],
  [0.568,0.445,0.13,0.13],[0.299,0.266,0.117,0.133],[0.51,0.137,0.111,0.135],[0.792,0.318,0.1265,0.1125]];
const blimpBoundary = [[-0.05,0.587],[0.002,0.586],[0.05,0.5857],[0.108,0.575],[0.166,0.537],[0.192,0.511],[0.2,0.482],[0.189,0.454],
  [0.154,0.422],[0.108,0.393],[0.05,0.358],[0.0156,0.329],[0.002,0.301],[-0.01,0.28]];
const mouseBoundary = [[1.05,0.621],[0.998,0.621],[0.957,0.623],[0.917,0.629],[0.858,0.631],[0.836,0.613],[0.824,0.575],[0.8265,0.524],
  [0.836,0.4985],[0.853,0.48],[0.894,0.4717],[0.934,0.47],[0.995,0.475],[1.05,0.478]];

const panels = [
  {left: 38, width: 576, points: imagePoints, markerStroke: 1.4, caption: ["(a) ", "t-SNE", " visualization of the natural images"], capX: 330},
  {left: 729, width: 575.5, points: sketchPoints, markerStroke: 1.2, caption: ["(b) ", "t-SNE", " visualization of the query sketches"], capX: 1027}
];
const plotTop = 10.7, plotH = 523.3;

function polyPath(n, r, inner) {
  const pts = [];
  const k = inner ? n * 2 : n;
  for (let i = 0; i < k; i++) {
    const a = -Math.PI / 2 + i * 2 * Math.PI / k;
    const rr = inner && i % 2 ? inner : r;
    pts.push([rr * Math.cos(a), rr * Math.sin(a)]);
  }
  return "M" + pts.map(p => p[0].toFixed(2) + "," + p[1].toFixed(2)).join("L") + "Z";
}

function markerPath(type) {
  switch (type) {
    case "plus": return "M-5.5,0H5.5M0,-5.5V5.5";
    case "circle": return "M4.6,0A4.6,4.6 0 1,1 -4.6,0A4.6,4.6 0 1,1 4.6,0Z";
    case "star": return polyPath(5, 5.6, 2.3);
    case "hexagon": return polyPath(6, 5.2);
    case "thindiamond": return "M0,-7.2L4,0L0,7.2L-4,0Z";
    case "triUp": return "M0,-6.2L5.6,4.2L-5.6,4.2Z";
    case "triLeft": return "M-6.2,0L4.2,-5.6L4.2,5.6Z";
    case "pentagon": return polyPath(5, 5.6);
    case "square": return "M-4.6,-4.6H4.6V4.6H-4.6Z";
    case "triRight": return "M6.2,0L-4.2,-5.6L-4.2,5.6Z";
  }
}

const svg = d3.select("#chart").append("svg")
  .attr("width", 1336).attr("height", 600)
  .style("font-family", "'DejaVu Sans', sans-serif");
svg.append("rect").attr("width", 1336).attr("height", 600).attr("fill", "#fff");

panels.forEach((p, pi) => {
  const x = d3.scaleLinear().domain([0, 1]).range([0, p.width]);
  const y = d3.scaleLinear().domain([0, 1]).range([plotH, 0]);
  const g = svg.append("g").attr("transform", `translate(${p.left},${plotTop})`);

  const clipId = "clip" + pi;
  g.append("clipPath").attr("id", clipId)
    .append("rect").attr("width", p.width).attr("height", plotH);

  const plot = g.append("g").attr("clip-path", `url(#${clipId})`);

  // points
  p.points.forEach((pts, ci) => {
    plot.append("g")
      .selectAll("path")
      .data(pts)
      .join("path")
      .attr("transform", d => `translate(${x(d[0])},${y(d[1])})`)
      .attr("d", markerPath(classMarkers[ci]))
      .attr("fill", "none")
      .attr("stroke", classColors[ci])
      .attr("stroke-width", p.markerStroke)
      .attr("stroke-opacity", 0.9);
  });

  // cluster boundaries
  plot.selectAll("ellipse.bound")
    .data(boundaryEllipses)
    .join("ellipse")
    .attr("class", "bound")
    .attr("cx", d => x(d[0])).attr("cy", d => y(d[1]))
    .attr("rx", d => x(d[2]) - x(0)).attr("ry", d => y(0) - y(d[3]))
    .attr("fill", "none").attr("stroke", "#000").attr("stroke-width", 1.6);
  const line = d3.line().x(d => x(d[0])).y(d => y(d[1])).curve(d3.curveCatmullRom);
  [blimpBoundary, mouseBoundary].forEach(b => {
    plot.append("path").attr("d", line(b))
      .attr("fill", "none").attr("stroke", "#000").attr("stroke-width", 1.6);
  });

  // axes with inward ticks on all sides
  const fmt = d3.format(".1f");
  const axB = g.append("g").attr("transform", `translate(0,${plotH})`)
    .call(d3.axisBottom(x).tickValues(tickValues).tickSize(-5).tickPadding(9).tickSizeOuter(0).tickFormat(fmt));
  const axL = g.append("g")
    .call(d3.axisLeft(y).tickValues(tickValues).tickSize(-5).tickPadding(5).tickSizeOuter(0).tickFormat(fmt));
  const axT = g.append("g")
    .call(d3.axisTop(x).tickValues(tickValues).tickSize(-5).tickSizeOuter(0).tickFormat(""));
  const axR = g.append("g").attr("transform", `translate(${p.width},0)`)
    .call(d3.axisRight(y).tickValues(tickValues).tickSize(-5).tickSizeOuter(0).tickFormat(""));
  [axB, axL, axT, axR].forEach(a => {
    a.select(".domain").remove();
    a.selectAll("text").attr("font-size", 15).attr("font-family", "'DejaVu Sans', sans-serif").attr("fill", "#000");
    a.selectAll("line").attr("stroke", "#000");
  });
  g.append("rect").attr("width", p.width).attr("height", plotH)
    .attr("fill", "none").attr("stroke", "#000").attr("stroke-width", 1.2);

  // legend
  const lg = g.append("g").attr("transform", `translate(${p.width - 97},5.5)`);
  lg.append("rect").attr("width", 90).attr("height", 167)
    .attr("fill", "#fff").attr("stroke", "#000").attr("stroke-width", 1);
  classNames.forEach((name, ci) => {
    const row = lg.append("g").attr("transform", `translate(0,${9 + ci * 16.37})`);
    [7.5, 16, 24.5].forEach(mx => {
      row.append("path").attr("transform", `translate(${mx},0)`)
        .attr("d", markerPath(classMarkers[ci]))
        .attr("fill", "none").attr("stroke", classColors[ci]).attr("stroke-width", 1.2);
    });
    row.append("text").attr("x", 36).attr("dy", "0.35em")
      .attr("font-size", 11).attr("fill", "#000").text(name);
  });

  // caption
  const cap = svg.append("text")
    .attr("x", p.capX).attr("y", 591)
    .attr("text-anchor", "middle")
    .attr("font-family", "'Liberation Serif', 'Times New Roman', serif")
    .attr("font-size", 19.5).attr("fill", "#000");
  cap.append("tspan").text(p.caption[0]);
  cap.append("tspan").attr("font-style", "italic").text(p.caption[1]);
  cap.append("tspan").text(p.caption[2]);
});
</script>
</body>
</html>
